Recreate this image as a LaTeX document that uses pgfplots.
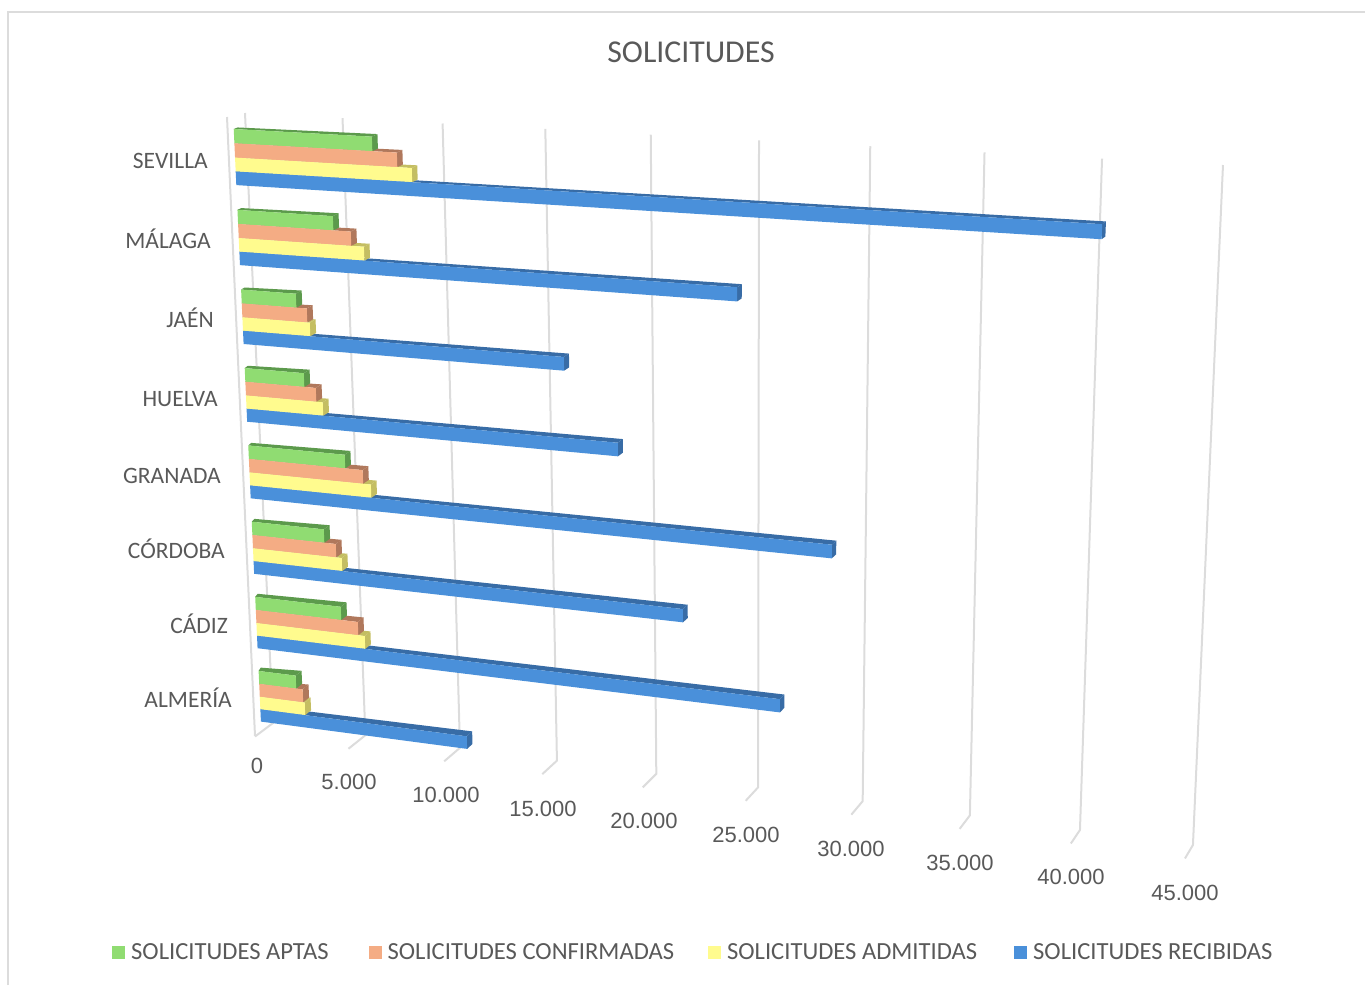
\documentclass[border=0pt]{standalone}
\usepackage{fontspec}
\setmainfont{Carlito}
\newfontfamily\tickfont{Liberation Sans}
\usepackage{pgfplots}
\usepackage{pgfplotstable}
\pgfplotsset{compat=1.18}
\definecolor{txt}{HTML}{595959}
\definecolor{gridc}{HTML}{DCDCDC}
\definecolor{cA}{HTML}{90DC72}\definecolor{cAd}{HTML}{5C9A4C}
\definecolor{cC}{HTML}{F4AC84}\definecolor{cCd}{HTML}{B0785C}
\definecolor{cD}{HTML}{FFFB8E}\definecolor{cDd}{HTML}{C4BE62}
\definecolor{cR}{HTML}{4A90DA}\definecolor{cRd}{HTML}{386CA6}
% rows from the back (top) to the front (bottom)
\pgfplotstableread{
prov aptas confirmadas admitidas recibidas
SEVILLA 7050 8280 9000 40600
MALAGA 4930 5820 6460 24550
JAEN 2860 3400 3530 16290
HUELVA 3110 3710 4040 18860
GRANADA 5090 6000 6400 29000
CORDOBA 3840 4440 4730 21950
CADIZ 4580 5460 5800 26610
ALMERIA 2010 2360 2440 11000
}\datatable
% perspective of the chart's back wall: (u,w) -> picture position
\newcommand\proj[4]{%
  \pgfmathsetmacro\DD{-0.11359*#1+0.05934*#2+1}%
  \pgfmathsetmacro#3{(839.08*#1+44.2*#2+245)/\DD}%
  \pgfmathsetmacro#4{(33.26*#1+652.9*#2+113)/\DD}}
% corners of the bar of row \i; #1 column, #2 #3 offsets of its edges within a row
\newcommand\barcalc[3]{%
    \pgfplotstablegetelem{\i}{#1}\of\datatable
    \edef\uu{\the\numexpr\pgfplotsretval*10000/45000\relax}%
    \pgfmathsetmacro\u{\uu/10000}%
    \pgfmathsetmacro\wa{0.0248+0.12647*\i+#2}%
    \pgfmathsetmacro\wb{0.0248+0.12647*\i+#3}%
    \proj{0}{\wa}\xa\ya \proj{\u}{\wa}\xb\yb
    \proj{\u}{\wb}\xc\yc \proj{0}{\wb}\xd\yd
    \pgfmathsetmacro\xa{\xa-12}\pgfmathsetmacro\xb{\xb-12}%
    \pgfmathsetmacro\xc{\xc-12}\pgfmathsetmacro\xd{\xd-12}%
    \pgfmathsetmacro\ex{6-2.5*\u}\pgfmathsetmacro\ey{2.5+2.5*\wa}%
    \pgfmathsetmacro\sx{\xa+4-2*\wa}\pgfmathsetmacro\sy{\ya-1.5-2*\wa}%
    \pgfmathsetmacro\tx{\xb+\ex}\pgfmathsetmacro\ty{\yb-\ey}%
    \pgfmathsetmacro\rx{\xc+\ex}\pgfmathsetmacro\ry{\yc-\ey}}
\newcommand\drawdark[4]{%
  \foreach \i in {0,...,7}{%
    \barcalc{#1}{#2}{#3}%
    \edef\temp{%
      \noexpand\addplot[fill=#4,draw=none,mark=none,forget plot] coordinates {(\xa,\ya)(\sx,\sy)(\tx,\ty)(\xb,\yb)};
      \noexpand\addplot[fill=#4,draw=none,mark=none,forget plot] coordinates {(\xb,\yb)(\tx,\ty)(\rx,\ry)(\xc,\yc)};
    }\temp
  }}
\newcommand\drawfront[4]{%
  \foreach \i in {0,...,7}{%
    \barcalc{#1}{#2}{#3}%
    \edef\temp{%
      \noexpand\addplot[fill=#4,draw=none,mark=none,forget plot] coordinates {(\xa,\ya)(\xb,\yb)(\xc,\yc)(\xd,\yd)};
    }\temp
  }}
\begin{document}
\begin{tikzpicture}
\useasboundingbox (0,0) rectangle (1365pt,985pt);
\begin{axis}[
  at={(0,0)},anchor=south west,
  scale only axis,width=1365pt,height=985pt,
  xmin=0,xmax=1365,ymin=0,ymax=985,y dir=reverse,
  hide axis,clip=false,
  legend columns=4,
  legend cell align=left,
  legend image code/.code={\fill[draw=none,#1] (0pt,-6.5pt) rectangle (13pt,6.5pt);},
  legend style={at={(axis cs:112,952)},anchor=west,draw=none,fill=none,inner sep=0pt,
    font=\fontsize{24.6}{28}\selectfont\color{txt},
    nodes={inner sep=0pt},
    /tikz/every odd column/.append style={column sep=6pt},
    /tikz/column 2/.append style={column sep=40pt},
    /tikz/column 4/.append style={column sep=34pt},
    /tikz/column 6/.append style={column sep=37pt}},
]
\addlegendimage{fill=cA,draw=none}\addlegendentry{SOLICITUDES APTAS}
\addlegendimage{fill=cC,draw=none}\addlegendentry{SOLICITUDES CONFIRMADAS}
\addlegendimage{fill=cD,draw=none}\addlegendentry{SOLICITUDES ADMITIDAS}
\addlegendimage{fill=cR,draw=none}\addlegendentry{SOLICITUDES RECIBIDAS}
% outer frame
\addplot[gridc,line width=2pt,mark=none,forget plot] coordinates {(8,985)(8,12)(1365,12)};
% side wall edge
\addplot[gridc,line width=2pt,mark=none,forget plot] coordinates {(227,117)(255,736)};
% grid
\foreach \v in {0,1,...,9}{%
  \pgfmathsetmacro\u{\v/9}%
  \proj{\u}{0}\gxa\gya \proj{\u}{1}\gxb\gyb
  \pgfmathsetmacro\gxc{\gxb-18+10*\u}\pgfmathsetmacro\gyc{\gyb+13.5}%
  \edef\temp{\noexpand\addplot[gridc,line width=2pt,mark=none,forget plot] coordinates {(\gxa,\gya)(\gxb,\gyb)(\gxc,\gyc)};}\temp
}
\drawdark{recibidas}{0.0662}{0.0875}{cRd}
\drawdark{admitidas}{0.0445}{0.0662}{cDd}
\drawdark{confirmadas}{0.0222}{0.0445}{cCd}
\drawdark{aptas}{0}{0.0222}{cAd}
\drawfront{aptas}{0}{0.0222}{cA}
\drawfront{confirmadas}{0.0222}{0.0445}{cC}
\drawfront{admitidas}{0.0445}{0.0662}{cD}
\drawfront{recibidas}{0.0662}{0.0875}{cR}
% title and labels
\node[txt,font=\fontsize{31.8}{36}\selectfont] at (axis cs:691,52) {SOLICITUDES};
\begin{scope}[every node/.style={txt,anchor=base east,inner sep=0pt,font=\fontsize{23.5}{28}\selectfont}]
\node at (axis cs:208,168) {SEVILLA};
\node at (axis cs:211,248) {MÁLAGA};
\node at (axis cs:214,327) {JAÉN};
\node at (axis cs:218,406) {HUELVA};
\node at (axis cs:221,483) {GRANADA};
\node at (axis cs:225,558) {CÓRDOBA};
\node at (axis cs:228,633) {CÁDIZ};
\node at (axis cs:232,707) {ALMERÍA};
\end{scope}
\begin{scope}[every node/.style={txt,font=\fontsize{22}{26}\tickfont}]
\node at (axis cs:257,766) {0};
\node at (axis cs:349,782) {5.000};
\node at (axis cs:446,795) {10.000};
\node at (axis cs:543,809) {15.000};
\node at (axis cs:644,821) {20.000};
\node at (axis cs:746,835) {25.000};
\node at (axis cs:851,849) {30.000};
\node at (axis cs:960,863) {35.000};
\node at (axis cs:1071,877) {40.000};
\node at (axis cs:1185,893) {45.000};
\end{scope}
\end{axis}
\end{tikzpicture}
\end{document}
